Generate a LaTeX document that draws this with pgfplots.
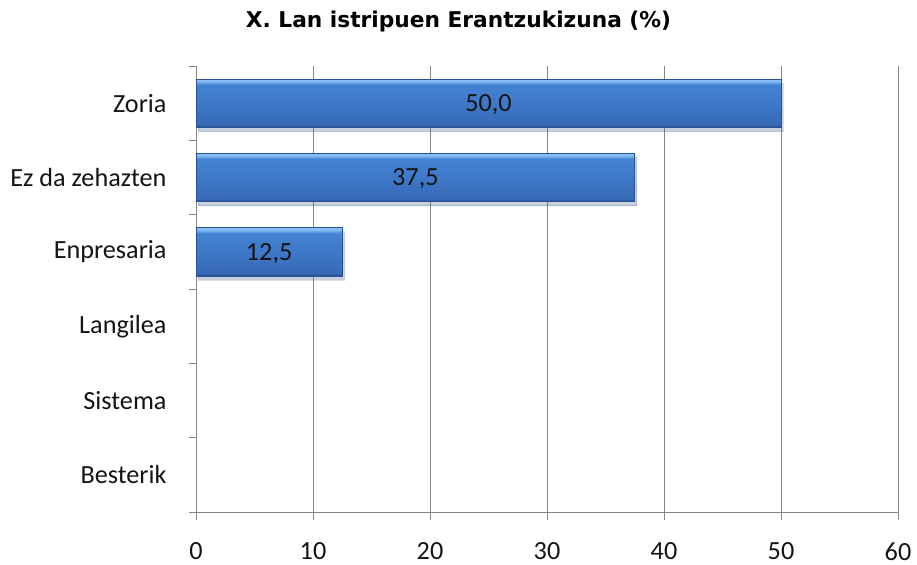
\documentclass[border=0pt]{standalone}
\usepackage{pgfplots}
\pgfplotsset{compat=1.18}
\usepackage{fontspec}
\setmainfont{Carlito}
\newfontfamily\titlefont{DejaVu Sans}
\usetikzlibrary{shadows}
\definecolor{axisgray}{RGB}{134,134,134}
\definecolor{barTop}{RGB}{135,190,246}
\definecolor{barUp}{RGB}{68,130,210}
\definecolor{barMid}{RGB}{62,121,200}
\definecolor{barLow}{RGB}{54,106,182}
\definecolor{barBot}{RGB}{38,78,140}
\definecolor{barEdge}{RGB}{40,82,145}
\definecolor{txt}{RGB}{20,20,20}
\pgfdeclareverticalshading{barshade}{100bp}{color(0bp)=(barBot); color(25bp)=(barBot); color(28bp)=(barLow); color(50bp)=(barMid); color(69bp)=(barUp); color(73bp)=(barTop); color(75bp)=(barTop); color(100bp)=(barTop)}
\begin{document}
\begin{tikzpicture}[x=1bp,y=1bp]
\useasboundingbox (0,0) rectangle (917,565);
\begin{axis}[
  at={(196bp,53bp)}, anchor=south west,
  scale only axis, width=702bp, height=446bp,
  xmin=0, xmax=60, xtick={0,10,...,60},
  ymin=-0.5, ymax=5.5,
  ytick={0,...,5},
  yticklabels={Besterik,Sistema,Langilea,Enpresaria,Ez da zehazten,Zoria},
  minor ytick={-0.5,0.5,...,5.5},
  axis x line*=bottom, axis y line*=left,
  axis line style={axisgray, line width=0.9bp},
  tick align=outside,
  major tick length=8bp, minor tick length=7bp,
  major x tick style={axisgray, line width=0.9bp},
  major y tick style={draw=none},
  minor y tick style={axisgray, line width=0.9bp},
  xmajorgrids, major x grid style={axisgray, line width=0.9bp},
  /pgf/number format/assume math mode=true,
  tick label style={font=\fontsize{26.3}{31}\selectfont, text=txt},
  yticklabel style={xshift=-18bp},
  xticklabel style={yshift=-19bp},
  clip=false,
  barstyle/.style={xbar, bar width=0.65, draw=barEdge, line width=0.6bp,
    shading=barshade,
    drop shadow={shadow xshift=2bp, shadow yshift=-4bp, opacity=0.18}},
]
\addplot[barstyle] coordinates {(50,5)};
\addplot[barstyle] coordinates {(37.5,4)};
\addplot[barstyle] coordinates {(12.5,3)};
\addplot[draw=none, mark=none, nodes near coords, point meta=explicit symbolic,
  every node near coord/.style={anchor=center, yshift=-1.5bp, font=\fontsize{26.3}{31}\selectfont, text=txt}]
  coordinates {(25,5) [50,0] (18.75,4) [37,5] (6.25,3) [12,5]};
\end{axis}
\node[font=\titlefont\bfseries\fontsize{21.8}{26}\selectfont, text=black] at (458.5,543) {X. Lan istripuen Erantzukizuna (\%)};
\end{tikzpicture}
\end{document}
